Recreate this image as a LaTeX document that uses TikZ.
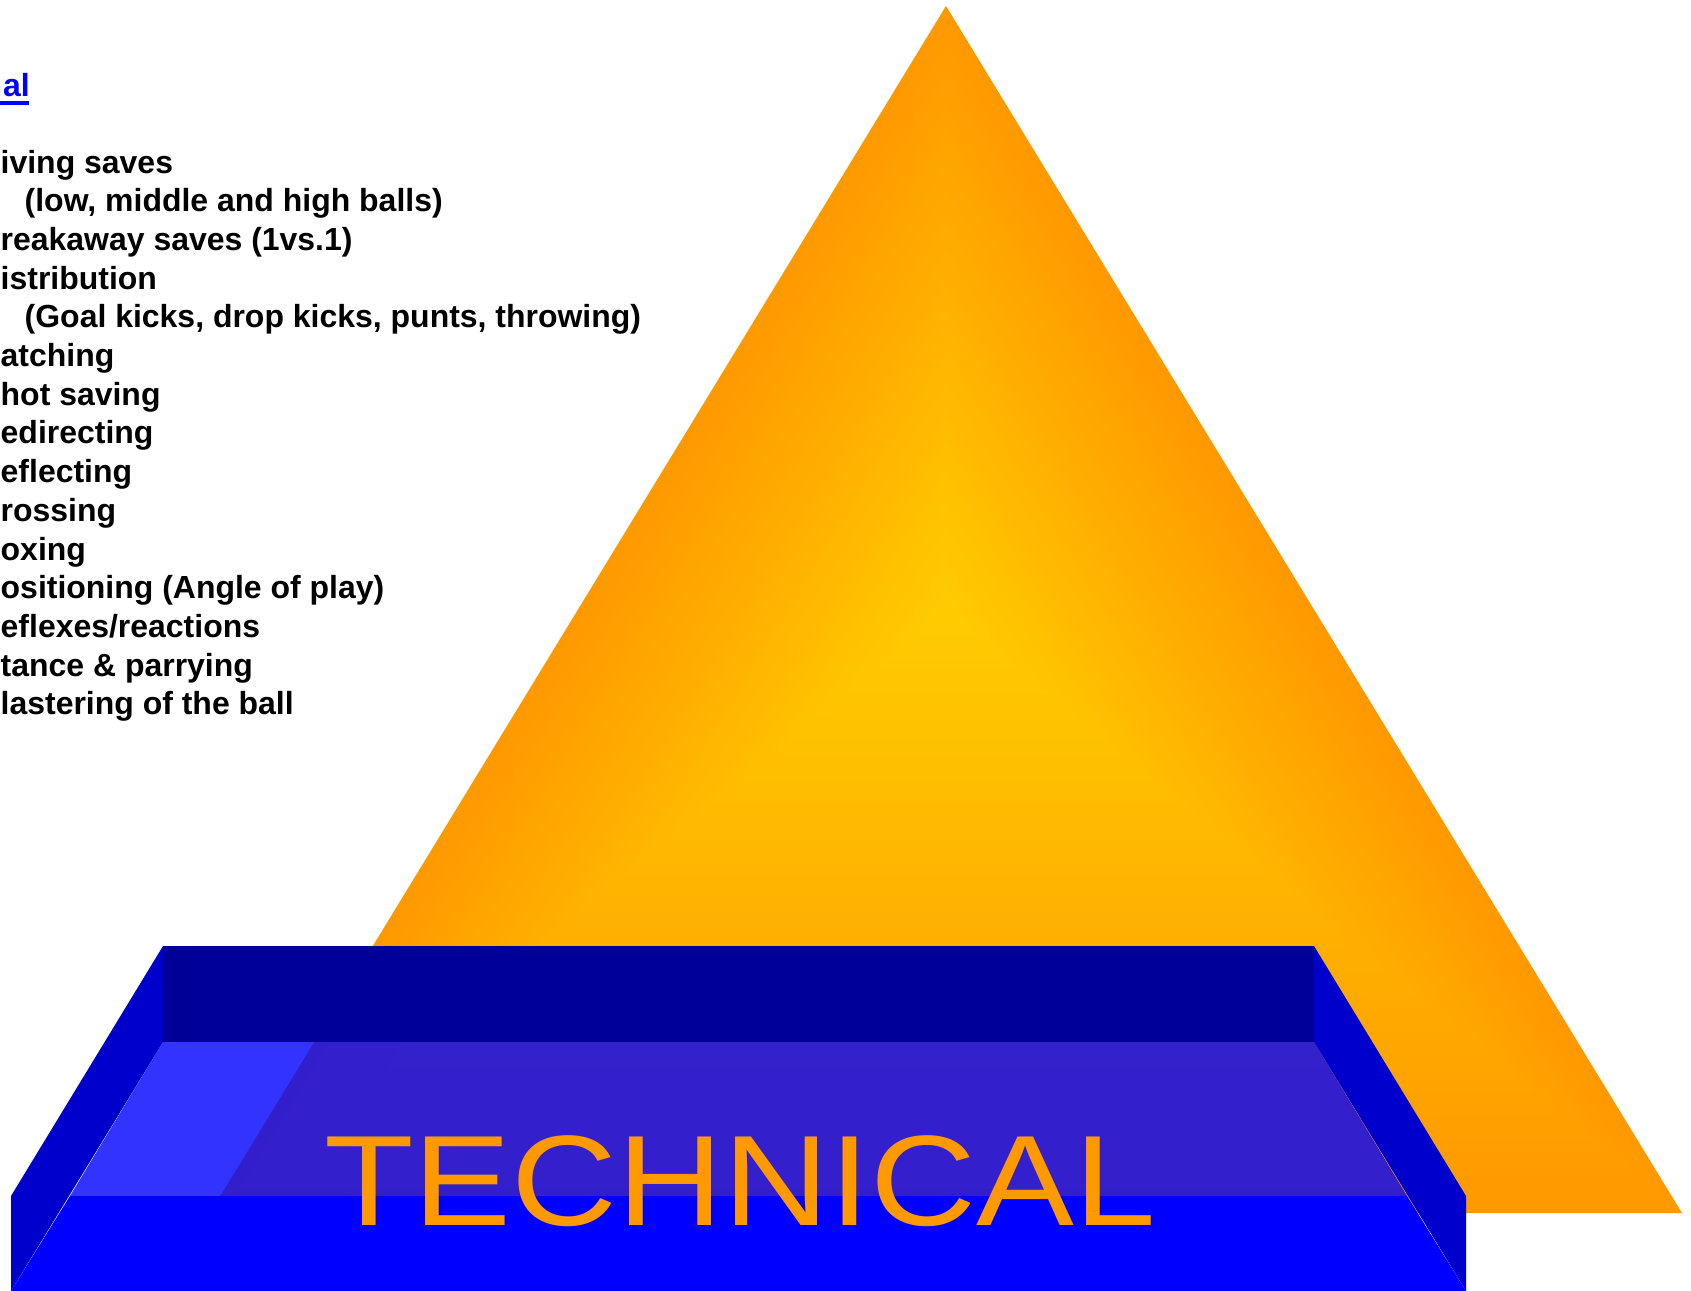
\documentclass[tikz,border=0pt]{standalone}
\usepackage{fontspec}
\setmainfont{Liberation Sans}
\newfontfamily\techfont[FakeStretch=1.14]{Liberation Sans}
\usetikzlibrary{positioning}
\definecolor{TriOrange}{HTML}{FF9900}
\definecolor{TriYellow}{HTML}{FFCC00}
\definecolor{BoxNavy}  {HTML}{000099}
\definecolor{BoxSide}  {HTML}{0000CC}
\definecolor{BoxFront} {HTML}{0000FF}
\definecolor{LinkBlue} {HTML}{0000FF}
\definecolor{TxtItem}  {HTML}{000000}
\newcommand{\subpad}{\hspace*{0.24cm}}
\tikzset{
  item/.style={anchor=base west, inner sep=0pt, text=TxtItem,
               font=\fontsize{9.09}{11}\selectfont\bfseries},
  face/.style={draw=none},
}

\begin{document}
\begin{tikzpicture}[x=0.01cm, y=-0.01cm]
      \useasboundingbox (0,0) rectangle (1691,1291);
      % ── Pyramid: yellow centre, orange rim ──
      \foreach \s in {1.00,0.98,...,0.01} {
        \pgfmathsetmacro\mix{100*(1-\s)}
        \fill[TriYellow!\mix!TriOrange, shift={(946,610)}, scale=\s]
          (0,-604) -- (736,603) -- (-736,603) -- cycle;
      }
      % ── Base block ──
      \fill[face, BoxNavy] (163,946) rectangle (1314,1042);
      \fill[face, BoxSide] (163,946) -- (11,1196) -- (11,1291) -- (163,1042) -- cycle;
      \fill[face, BoxSide] (1314,946) -- (1466,1196) -- (1466,1291) -- (1314,1042) -- cycle;
      \fill[face, BoxFront] (70,1196) -- (1407,1196) -- (1466,1291) -- (11,1291) -- cycle;
      \fill[face, BoxFront, fill opacity=0.8]
        (163,1042) -- (1314,1042) -- (1407,1196) -- (70,1196) -- cycle;
      \node[anchor=base west, inner sep=0pt, text=TriOrange,
            font=\fontsize{36.6}{40}\techfont] (tech) at (323.4,1225) {TECHNICAL};
      % ── Skill list ──
      \node[item, text=LinkBlue] (title) at (2.3,97) {al};
      \fill[LinkBlue] (0,101) rectangle (29,105);
      \foreach \txt [count=\k from 0] in {iving saves,
          {\subpad(low, middle and high balls)}, {reakaway saves (1vs.1)},
          istribution, {\subpad(Goal kicks, drop kicks, punts, throwing)},
          atching, hot saving, edirecting, eflecting, rossing, oxing,
          {ositioning (Angle of play)}, eflexes/reactions,
          {tance \& parrying}, lastering of the ball}
        \node[item] (item\k) at (0,{173+38.7*\k}) {\txt};
    \end{tikzpicture}
\end{document}
